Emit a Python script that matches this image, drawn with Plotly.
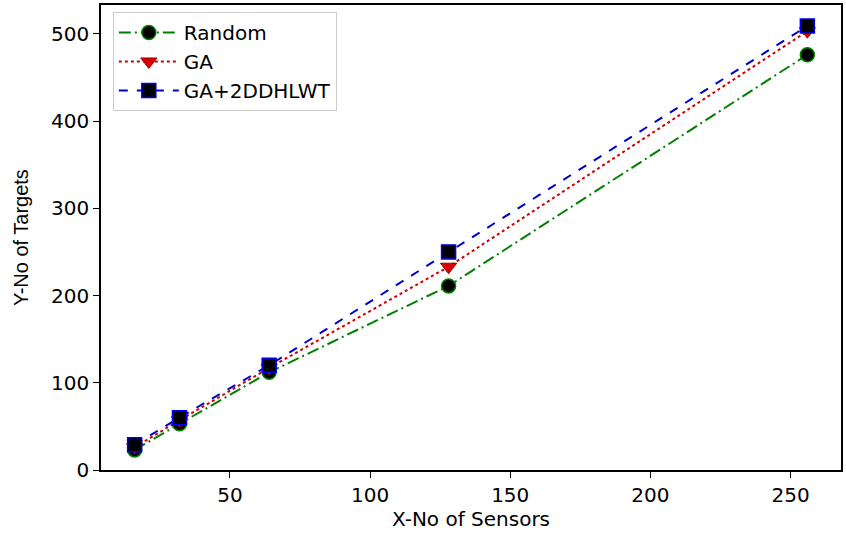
import plotly.graph_objects as go

sensors = [16, 32, 64, 128, 256]
random_vals = [23, 53, 112, 211, 476]
ga_vals = [26, 57, 117, 233, 503]
ga2d_vals = [29, 60, 120, 250, 509]

x_ticks = [50, 100, 150, 200, 250]
y_ticks = [0, 100, 200, 300, 400, 500]

fig = go.Figure()
fig.add_trace(go.Scatter(
    x=sensors, y=random_vals, name="Random", mode="lines+markers",
    line=dict(color="green", dash="12px,4px,2px,4px", width=2),
    marker=dict(symbol="circle", size=14, color="black", line=dict(color="green", width=1.5)),
))
fig.add_trace(go.Scatter(
    x=sensors, y=ga_vals, name="GA", mode="lines+markers",
    line=dict(color="#cc0000", dash="dot", width=2),
    marker=dict(symbol="triangle-down", size=14, color="#dd0000", line=dict(color="#990000", width=1)),
))
fig.add_trace(go.Scatter(
    x=sensors, y=ga2d_vals, name="GA+2DDHLWT", mode="lines+markers",
    line=dict(color="#0000cc", dash="dash", width=2),
    marker=dict(symbol="square", size=14, color="black", line=dict(color="#0000ee", width=1.5)),
))

font = dict(family="DejaVu Sans", size=20, color="black")
fig.update_layout(
    width=846, height=533,
    margin=dict(l=101, r=3, t=3, b=63),
    paper_bgcolor="white", plot_bgcolor="white",
    font=font,
    showlegend=True,
    legend=dict(x=0.016, y=0.985, xanchor="left", yanchor="top",
                bordercolor="#cccccc", borderwidth=1, bgcolor="white",
                font=dict(family="DejaVu Sans", size=20, color="black"),
                itemwidth=60, tracegroupgap=0),
    xaxis=dict(range=[4, 268], tickvals=x_ticks, showgrid=False, zeroline=False,
               showline=True, linecolor="black", linewidth=1.5, mirror=True,
               ticks="outside", ticklen=6, tickcolor="black",
               tickfont=dict(family="DejaVu Sans", size=20, color="black"),
               title=dict(text="X-No of Sensors", font=dict(family="DejaVu Sans", size=20, color="black"), standoff=4)),
    yaxis=dict(range=[0, 533], tickvals=y_ticks, showgrid=False, zeroline=False,
               showline=True, linecolor="black", linewidth=1.5, mirror=True,
               ticks="outside", ticklen=6, tickcolor="black",
               tickfont=dict(family="DejaVu Sans", size=20, color="black"),
               title=dict(text="Y-No of Targets", font=dict(family="Liberation Sans", size=20, color="black"), standoff=17)),
)

fig.write_html("out.html")
